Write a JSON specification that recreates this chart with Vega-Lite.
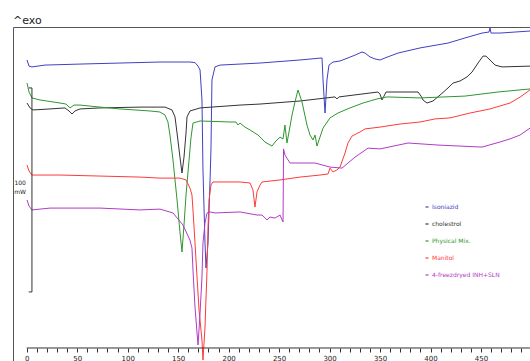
{
  "$schema": "https://vega.github.io/schema/vega-lite/v6.json",
  "width": 517,
  "height": 334,
  "autosize": {"type": "none"},
  "padding": {"left": 13, "top": 27, "right": 0, "bottom": 0},
  "background": "white",
  "title": {"text": "^exo", "anchor": "start", "frame": "group", "fontSize": 11, "font": "DejaVu Sans", "fontWeight": "normal", "color": "#222", "offset": 2, "dy": 2},
  "config": {
    "view": {"stroke": null},
    "font": "DejaVu Sans",
    "legend": {
      "orient": "none", "legendX": 411, "legendY": 177, "padding": 0,
      "symbolType": "stroke", "symbolSize": 9, "symbolStrokeWidth": 1.2,
      "labelFontSize": 6, "labelFont": "DejaVu Sans", "rowPadding": 11, "labelOffset": 2, "labelLimit": 200
    }
  },
  "datasets": {
    "curves": [
      {"sample": "Isoniazid", "temp": 0.3, "flow": 150.5},
      {"sample": "Isoniazid", "temp": 2.3, "flow": 147.5},
      {"sample": "Isoniazid", "temp": 5.2, "flow": 147.1},
      {"sample": "Isoniazid", "temp": 18.1, "flow": 148.0},
      {"sample": "Isoniazid", "temp": 52.8, "flow": 148.5},
      {"sample": "Isoniazid", "temp": 92.4, "flow": 149.0},
      {"sample": "Isoniazid", "temp": 132.0, "flow": 149.5},
      {"sample": "Isoniazid", "temp": 161.7, "flow": 149.5},
      {"sample": "Isoniazid", "temp": 166.7, "flow": 149.2},
      {"sample": "Isoniazid", "temp": 169.7, "flow": 147.5},
      {"sample": "Isoniazid", "temp": 171.7, "flow": 145.6},
      {"sample": "Isoniazid", "temp": 173.6, "flow": 130.9},
      {"sample": "Isoniazid", "temp": 174.6, "flow": 96.6},
      {"sample": "Isoniazid", "temp": 176.6, "flow": 60.8},
      {"sample": "Isoniazid", "temp": 177.6, "flow": 48.5},
      {"sample": "Isoniazid", "temp": 179.6, "flow": 60.8},
      {"sample": "Isoniazid", "temp": 181.6, "flow": 91.7},
      {"sample": "Isoniazid", "temp": 182.5, "flow": 106.4},
      {"sample": "Isoniazid", "temp": 183.5, "flow": 140.7},
      {"sample": "Isoniazid", "temp": 186.5, "flow": 147.1},
      {"sample": "Isoniazid", "temp": 191.5, "flow": 148.0},
      {"sample": "Isoniazid", "temp": 231.1, "flow": 149.0},
      {"sample": "Isoniazid", "temp": 270.7, "flow": 150.5},
      {"sample": "Isoniazid", "temp": 292.5, "flow": 151.5},
      {"sample": "Isoniazid", "temp": 293.5, "flow": 140.7},
      {"sample": "Isoniazid", "temp": 295.5, "flow": 124.5},
      {"sample": "Isoniazid", "temp": 297.4, "flow": 140.7},
      {"sample": "Isoniazid", "temp": 299.4, "flow": 148.0},
      {"sample": "Isoniazid", "temp": 303.4, "flow": 149.5},
      {"sample": "Isoniazid", "temp": 310.3, "flow": 150.0},
      {"sample": "Isoniazid", "temp": 318.2, "flow": 151.5},
      {"sample": "Isoniazid", "temp": 325.2, "flow": 152.9},
      {"sample": "Isoniazid", "temp": 332.1, "flow": 154.4},
      {"sample": "Isoniazid", "temp": 335.1, "flow": 153.9},
      {"sample": "Isoniazid", "temp": 340.0, "flow": 152.0},
      {"sample": "Isoniazid", "temp": 345.0, "flow": 151.0},
      {"sample": "Isoniazid", "temp": 349.9, "flow": 150.5},
      {"sample": "Isoniazid", "temp": 354.9, "flow": 151.5},
      {"sample": "Isoniazid", "temp": 367.8, "flow": 153.9},
      {"sample": "Isoniazid", "temp": 389.6, "flow": 156.4},
      {"sample": "Isoniazid", "temp": 417.3, "flow": 158.8},
      {"sample": "Isoniazid", "temp": 434.1, "flow": 161.3},
      {"sample": "Isoniazid", "temp": 451.0, "flow": 163.7},
      {"sample": "Isoniazid", "temp": 457.9, "flow": 164.2},
      {"sample": "Isoniazid", "temp": 458.9, "flow": 166.2},
      {"sample": "Isoniazid", "temp": 459.9, "flow": 163.7},
      {"sample": "Isoniazid", "temp": 468.8, "flow": 163.7},
      {"sample": "Isoniazid", "temp": 483.7, "flow": 164.2},
      {"sample": "Isoniazid", "temp": 498.5, "flow": 164.7},

      {"sample": "cholestrol", "temp": 0.3, "flow": 129.4},
      {"sample": "cholestrol", "temp": 3.3, "flow": 127.0},
      {"sample": "cholestrol", "temp": 6.2, "flow": 126.0},
      {"sample": "cholestrol", "temp": 23.1, "flow": 126.5},
      {"sample": "cholestrol", "temp": 37.9, "flow": 127.0},
      {"sample": "cholestrol", "temp": 41.9, "flow": 125.5},
      {"sample": "cholestrol", "temp": 44.9, "flow": 124.0},
      {"sample": "cholestrol", "temp": 47.8, "flow": 125.5},
      {"sample": "cholestrol", "temp": 52.8, "flow": 126.5},
      {"sample": "cholestrol", "temp": 72.6, "flow": 127.0},
      {"sample": "cholestrol", "temp": 112.2, "flow": 127.4},
      {"sample": "cholestrol", "temp": 137.0, "flow": 127.4},
      {"sample": "cholestrol", "temp": 143.9, "flow": 126.0},
      {"sample": "cholestrol", "temp": 146.9, "flow": 122.6},
      {"sample": "cholestrol", "temp": 148.9, "flow": 114.7},
      {"sample": "cholestrol", "temp": 151.8, "flow": 102.9},
      {"sample": "cholestrol", "temp": 153.8, "flow": 95.1},
      {"sample": "cholestrol", "temp": 155.8, "flow": 102.9},
      {"sample": "cholestrol", "temp": 157.8, "flow": 114.7},
      {"sample": "cholestrol", "temp": 158.8, "flow": 122.6},
      {"sample": "cholestrol", "temp": 161.7, "flow": 125.5},
      {"sample": "cholestrol", "temp": 171.7, "flow": 127.0},
      {"sample": "cholestrol", "temp": 211.3, "flow": 128.4},
      {"sample": "cholestrol", "temp": 231.1, "flow": 128.9},
      {"sample": "cholestrol", "temp": 270.7, "flow": 130.4},
      {"sample": "cholestrol", "temp": 305.4, "flow": 132.4},
      {"sample": "cholestrol", "temp": 307.3, "flow": 131.4},
      {"sample": "cholestrol", "temp": 309.3, "flow": 132.4},
      {"sample": "cholestrol", "temp": 347.9, "flow": 134.8},
      {"sample": "cholestrol", "temp": 349.9, "flow": 133.8},
      {"sample": "cholestrol", "temp": 351.9, "flow": 130.9},
      {"sample": "cholestrol", "temp": 353.9, "flow": 132.8},
      {"sample": "cholestrol", "temp": 355.9, "flow": 134.8},
      {"sample": "cholestrol", "temp": 387.6, "flow": 134.8},
      {"sample": "cholestrol", "temp": 390.6, "flow": 132.8},
      {"sample": "cholestrol", "temp": 392.5, "flow": 130.9},
      {"sample": "cholestrol", "temp": 396.5, "flow": 129.4},
      {"sample": "cholestrol", "temp": 402.4, "flow": 130.4},
      {"sample": "cholestrol", "temp": 409.4, "flow": 133.3},
      {"sample": "cholestrol", "temp": 417.3, "flow": 136.8},
      {"sample": "cholestrol", "temp": 422.3, "flow": 139.2},
      {"sample": "cholestrol", "temp": 429.2, "flow": 140.2},
      {"sample": "cholestrol", "temp": 436.1, "flow": 142.2},
      {"sample": "cholestrol", "temp": 441.1, "flow": 144.6},
      {"sample": "cholestrol", "temp": 447.0, "flow": 149.0},
      {"sample": "cholestrol", "temp": 452.0, "flow": 152.4},
      {"sample": "cholestrol", "temp": 454.9, "flow": 152.4},
      {"sample": "cholestrol", "temp": 458.9, "flow": 150.5},
      {"sample": "cholestrol", "temp": 463.9, "flow": 148.0},
      {"sample": "cholestrol", "temp": 470.8, "flow": 147.1},
      {"sample": "cholestrol", "temp": 498.5, "flow": 147.5},

      {"sample": "Physical Mix.", "temp": 0.3, "flow": 139.2},
      {"sample": "Physical Mix.", "temp": 2.3, "flow": 134.8},
      {"sample": "Physical Mix.", "temp": 5.2, "flow": 131.9},
      {"sample": "Physical Mix.", "temp": 13.2, "flow": 130.9},
      {"sample": "Physical Mix.", "temp": 33.0, "flow": 129.4},
      {"sample": "Physical Mix.", "temp": 38.9, "flow": 128.9},
      {"sample": "Physical Mix.", "temp": 42.9, "flow": 127.0},
      {"sample": "Physical Mix.", "temp": 46.8, "flow": 128.4},
      {"sample": "Physical Mix.", "temp": 52.8, "flow": 128.4},
      {"sample": "Physical Mix.", "temp": 72.6, "flow": 127.4},
      {"sample": "Physical Mix.", "temp": 92.4, "flow": 126.5},
      {"sample": "Physical Mix.", "temp": 122.1, "flow": 125.5},
      {"sample": "Physical Mix.", "temp": 132.0, "flow": 125.0},
      {"sample": "Physical Mix.", "temp": 137.0, "flow": 123.5},
      {"sample": "Physical Mix.", "temp": 139.9, "flow": 120.1},
      {"sample": "Physical Mix.", "temp": 141.9, "flow": 113.7},
      {"sample": "Physical Mix.", "temp": 144.9, "flow": 101.5},
      {"sample": "Physical Mix.", "temp": 148.9, "flow": 81.9},
      {"sample": "Physical Mix.", "temp": 151.8, "flow": 66.2},
      {"sample": "Physical Mix.", "temp": 153.8, "flow": 56.4},
      {"sample": "Physical Mix.", "temp": 155.8, "flow": 69.6},
      {"sample": "Physical Mix.", "temp": 157.8, "flow": 84.3},
      {"sample": "Physical Mix.", "temp": 160.8, "flow": 101.5},
      {"sample": "Physical Mix.", "temp": 162.7, "flow": 112.3},
      {"sample": "Physical Mix.", "temp": 164.7, "flow": 119.6},
      {"sample": "Physical Mix.", "temp": 171.7, "flow": 120.6},
      {"sample": "Physical Mix.", "temp": 201.4, "flow": 120.1},
      {"sample": "Physical Mix.", "temp": 207.3, "flow": 120.1},
      {"sample": "Physical Mix.", "temp": 209.3, "flow": 118.6},
      {"sample": "Physical Mix.", "temp": 211.3, "flow": 119.6},
      {"sample": "Physical Mix.", "temp": 216.2, "flow": 117.6},
      {"sample": "Physical Mix.", "temp": 221.2, "flow": 116.2},
      {"sample": "Physical Mix.", "temp": 229.1, "flow": 113.7},
      {"sample": "Physical Mix.", "temp": 236.0, "flow": 110.3},
      {"sample": "Physical Mix.", "temp": 242.9, "flow": 108.3},
      {"sample": "Physical Mix.", "temp": 246.9, "flow": 110.8},
      {"sample": "Physical Mix.", "temp": 250.9, "flow": 112.7},
      {"sample": "Physical Mix.", "temp": 253.9, "flow": 111.8},
      {"sample": "Physical Mix.", "temp": 255.8, "flow": 118.6},
      {"sample": "Physical Mix.", "temp": 257.8, "flow": 109.8},
      {"sample": "Physical Mix.", "temp": 259.8, "flow": 115.2},
      {"sample": "Physical Mix.", "temp": 262.8, "flow": 123.5},
      {"sample": "Physical Mix.", "temp": 265.7, "flow": 129.9},
      {"sample": "Physical Mix.", "temp": 268.7, "flow": 135.8},
      {"sample": "Physical Mix.", "temp": 272.7, "flow": 129.9},
      {"sample": "Physical Mix.", "temp": 277.6, "flow": 118.6},
      {"sample": "Physical Mix.", "temp": 280.6, "flow": 113.7},
      {"sample": "Physical Mix.", "temp": 283.6, "flow": 111.3},
      {"sample": "Physical Mix.", "temp": 285.6, "flow": 113.7},
      {"sample": "Physical Mix.", "temp": 287.5, "flow": 108.3},
      {"sample": "Physical Mix.", "temp": 290.5, "flow": 112.7},
      {"sample": "Physical Mix.", "temp": 293.5, "flow": 117.1},
      {"sample": "Physical Mix.", "temp": 300.4, "flow": 122.1},
      {"sample": "Physical Mix.", "temp": 308.3, "flow": 124.5},
      {"sample": "Physical Mix.", "temp": 320.2, "flow": 127.0},
      {"sample": "Physical Mix.", "temp": 333.1, "flow": 129.4},
      {"sample": "Physical Mix.", "temp": 347.0, "flow": 131.4},
      {"sample": "Physical Mix.", "temp": 356.9, "flow": 132.4},
      {"sample": "Physical Mix.", "temp": 389.6, "flow": 131.9},
      {"sample": "Physical Mix.", "temp": 434.1, "flow": 132.8},
      {"sample": "Physical Mix.", "temp": 466.8, "flow": 134.8},
      {"sample": "Physical Mix.", "temp": 498.5, "flow": 136.3},

      {"sample": "Manitol", "temp": 0.3, "flow": 99.0},
      {"sample": "Manitol", "temp": 2.3, "flow": 96.1},
      {"sample": "Manitol", "temp": 5.2, "flow": 94.1},
      {"sample": "Manitol", "temp": 33.0, "flow": 94.1},
      {"sample": "Manitol", "temp": 72.6, "flow": 93.6},
      {"sample": "Manitol", "temp": 112.2, "flow": 93.1},
      {"sample": "Manitol", "temp": 132.0, "flow": 92.6},
      {"sample": "Manitol", "temp": 151.8, "flow": 92.6},
      {"sample": "Manitol", "temp": 157.8, "flow": 91.7},
      {"sample": "Manitol", "temp": 161.7, "flow": 87.7},
      {"sample": "Manitol", "temp": 163.7, "flow": 84.3},
      {"sample": "Manitol", "temp": 164.7, "flow": 77.0},
      {"sample": "Manitol", "temp": 166.7, "flow": 60.8},
      {"sample": "Manitol", "temp": 168.7, "flow": 44.1},
      {"sample": "Manitol", "temp": 170.7, "flow": 27.9},
      {"sample": "Manitol", "temp": 173.6, "flow": 13.2},
      {"sample": "Manitol", "temp": 174.6, "flow": 3.4},
      {"sample": "Manitol", "temp": 176.6, "flow": 19.6},
      {"sample": "Manitol", "temp": 178.6, "flow": 47.5},
      {"sample": "Manitol", "temp": 179.6, "flow": 68.6},
      {"sample": "Manitol", "temp": 180.6, "flow": 81.9},
      {"sample": "Manitol", "temp": 182.5, "flow": 89.2},
      {"sample": "Manitol", "temp": 184.5, "flow": 90.7},
      {"sample": "Manitol", "temp": 191.5, "flow": 90.7},
      {"sample": "Manitol", "temp": 211.3, "flow": 90.7},
      {"sample": "Manitol", "temp": 221.2, "flow": 90.2},
      {"sample": "Manitol", "temp": 224.1, "flow": 86.8},
      {"sample": "Manitol", "temp": 226.1, "flow": 78.4},
      {"sample": "Manitol", "temp": 228.1, "flow": 85.8},
      {"sample": "Manitol", "temp": 231.1, "flow": 89.2},
      {"sample": "Manitol", "temp": 233.1, "flow": 90.7},
      {"sample": "Manitol", "temp": 250.9, "flow": 91.7},
      {"sample": "Manitol", "temp": 270.7, "flow": 93.1},
      {"sample": "Manitol", "temp": 290.5, "flow": 94.1},
      {"sample": "Manitol", "temp": 298.4, "flow": 94.6},
      {"sample": "Manitol", "temp": 300.4, "flow": 97.5},
      {"sample": "Manitol", "temp": 303.4, "flow": 95.6},
      {"sample": "Manitol", "temp": 307.3, "flow": 96.6},
      {"sample": "Manitol", "temp": 310.3, "flow": 98.0},
      {"sample": "Manitol", "temp": 315.3, "flow": 104.9},
      {"sample": "Manitol", "temp": 318.2, "flow": 109.8},
      {"sample": "Manitol", "temp": 322.2, "flow": 113.2},
      {"sample": "Manitol", "temp": 330.1, "flow": 115.2},
      {"sample": "Manitol", "temp": 335.1, "flow": 116.7},
      {"sample": "Manitol", "temp": 349.9, "flow": 117.6},
      {"sample": "Manitol", "temp": 369.8, "flow": 119.1},
      {"sample": "Manitol", "temp": 389.6, "flow": 120.1},
      {"sample": "Manitol", "temp": 404.4, "flow": 121.6},
      {"sample": "Manitol", "temp": 419.3, "flow": 122.1},
      {"sample": "Manitol", "temp": 439.1, "flow": 124.5},
      {"sample": "Manitol", "temp": 458.9, "flow": 126.5},
      {"sample": "Manitol", "temp": 478.7, "flow": 129.4},
      {"sample": "Manitol", "temp": 488.6, "flow": 132.3},
      {"sample": "Manitol", "temp": 498.5, "flow": 135.8},

      {"sample": "4-freezdryed INH+SLN", "temp": 0.3, "flow": 81.9},
      {"sample": "4-freezdryed INH+SLN", "temp": 2.3, "flow": 78.9},
      {"sample": "4-freezdryed INH+SLN", "temp": 5.2, "flow": 77.0},
      {"sample": "4-freezdryed INH+SLN", "temp": 23.1, "flow": 77.9},
      {"sample": "4-freezdryed INH+SLN", "temp": 42.9, "flow": 77.9},
      {"sample": "4-freezdryed INH+SLN", "temp": 72.6, "flow": 77.9},
      {"sample": "4-freezdryed INH+SLN", "temp": 112.2, "flow": 77.0},
      {"sample": "4-freezdryed INH+SLN", "temp": 132.0, "flow": 77.4},
      {"sample": "4-freezdryed INH+SLN", "temp": 144.9, "flow": 75.5},
      {"sample": "4-freezdryed INH+SLN", "temp": 154.8, "flow": 69.6},
      {"sample": "4-freezdryed INH+SLN", "temp": 161.7, "flow": 62.2},
      {"sample": "4-freezdryed INH+SLN", "temp": 163.7, "flow": 58.3},
      {"sample": "4-freezdryed INH+SLN", "temp": 164.7, "flow": 47.5},
      {"sample": "4-freezdryed INH+SLN", "temp": 166.7, "flow": 29.4},
      {"sample": "4-freezdryed INH+SLN", "temp": 168.7, "flow": 16.7},
      {"sample": "4-freezdryed INH+SLN", "temp": 169.7, "flow": 10.8},
      {"sample": "4-freezdryed INH+SLN", "temp": 171.7, "flow": 26.5},
      {"sample": "4-freezdryed INH+SLN", "temp": 173.6, "flow": 44.1},
      {"sample": "4-freezdryed INH+SLN", "temp": 174.6, "flow": 60.8},
      {"sample": "4-freezdryed INH+SLN", "temp": 176.6, "flow": 70.6},
      {"sample": "4-freezdryed INH+SLN", "temp": 178.6, "flow": 75.5},
      {"sample": "4-freezdryed INH+SLN", "temp": 181.6, "flow": 76.0},
      {"sample": "4-freezdryed INH+SLN", "temp": 186.5, "flow": 75.5},
      {"sample": "4-freezdryed INH+SLN", "temp": 211.3, "flow": 76.0},
      {"sample": "4-freezdryed INH+SLN", "temp": 228.1, "flow": 74.5},
      {"sample": "4-freezdryed INH+SLN", "temp": 233.1, "flow": 74.5},
      {"sample": "4-freezdryed INH+SLN", "temp": 238.0, "flow": 72.1},
      {"sample": "4-freezdryed INH+SLN", "temp": 241.0, "flow": 73.5},
      {"sample": "4-freezdryed INH+SLN", "temp": 245.9, "flow": 73.0},
      {"sample": "4-freezdryed INH+SLN", "temp": 250.9, "flow": 74.5},
      {"sample": "4-freezdryed INH+SLN", "temp": 252.9, "flow": 72.1},
      {"sample": "4-freezdryed INH+SLN", "temp": 253.9, "flow": 71.1},
      {"sample": "4-freezdryed INH+SLN", "temp": 254.4, "flow": 106.9},
      {"sample": "4-freezdryed INH+SLN", "temp": 255.8, "flow": 103.9},
      {"sample": "4-freezdryed INH+SLN", "temp": 260.8, "flow": 100.0},
      {"sample": "4-freezdryed INH+SLN", "temp": 270.7, "flow": 100.0},
      {"sample": "4-freezdryed INH+SLN", "temp": 285.6, "flow": 100.0},
      {"sample": "4-freezdryed INH+SLN", "temp": 300.4, "flow": 98.0},
      {"sample": "4-freezdryed INH+SLN", "temp": 312.3, "flow": 97.5},
      {"sample": "4-freezdryed INH+SLN", "temp": 325.2, "flow": 102.9},
      {"sample": "4-freezdryed INH+SLN", "temp": 338.1, "flow": 107.3},
      {"sample": "4-freezdryed INH+SLN", "temp": 349.9, "flow": 106.9},
      {"sample": "4-freezdryed INH+SLN", "temp": 377.7, "flow": 109.8},
      {"sample": "4-freezdryed INH+SLN", "temp": 407.4, "flow": 108.8},
      {"sample": "4-freezdryed INH+SLN", "temp": 451.0, "flow": 107.8},
      {"sample": "4-freezdryed INH+SLN", "temp": 468.8, "flow": 110.3},
      {"sample": "4-freezdryed INH+SLN", "temp": 478.7, "flow": 111.8},
      {"sample": "4-freezdryed INH+SLN", "temp": 488.6, "flow": 113.7},
      {"sample": "4-freezdryed INH+SLN", "temp": 498.5, "flow": 117.1}
    ],
    "guides": [
      {"part": "scale bar", "t0": 5.2, "t1": 5.2, "f0": 36.8, "f1": 136.8},
      {"part": "scale bar top", "t0": 2.0, "t1": 5.2, "f0": 136.8, "f1": 136.8},
      {"part": "scale bar bottom", "t0": 2.0, "t1": 5.2, "f0": 36.8, "f1": 36.8},
      {"part": "temperature axis", "t0": 0, "t1": 510, "f0": 9.32, "f1": 9.32}
    ],
    "notes": [
      {"text": "100", "temp": -6.5, "flow": 90.2},
      {"text": "mW", "temp": -6.5, "flow": 85.8}
    ]
  },
  "layer": [
    {
      "data": {"name": "curves"},
      "mark": {"type": "line", "strokeWidth": 1, "interpolate": "linear"},
      "encoding": {
        "x": {
          "field": "temp", "type": "quantitative",
          "scale": {"domain": [-13.57, 498.5], "nice": false, "zero": false},
          "axis": {
            "orient": "bottom", "offset": -13, "domain": false, "grid": false, "title": null,
            "values": [0,10,20,30,40,50,60,70,80,90,100,110,120,130,140,150,160,170,180,190,200,210,220,230,240,250,260,270,280,290,300,310,320,330,340,350,360,370,380,390,400,410,420,430,440,450,460,470,480,490,500],
            "labelExpr": "datum.value % 50 === 0 ? datum.label : ''",
            "tickSize": 4, "tickColor": "#333", "labelFontSize": 7, "labelPadding": 2, "labelColor": "#222",
            "labelFont": "DejaVu Sans", "labelFlush": false, "labelOverlap": false, "labelBound": false
          }
        },
        "y": {
          "field": "flow", "type": "quantitative",
          "scale": {"domain": [2.94, 166.67], "nice": false, "zero": false},
          "axis": {"orient": "left", "domain": true, "domainColor": "#555", "ticks": false, "labels": false, "grid": false, "title": null}
        },
        "color": {
          "field": "sample", "type": "nominal",
          "scale": {
            "domain": ["Isoniazid", "cholestrol", "Physical Mix.", "Manitol", "4-freezdryed INH+SLN"],
            "range": ["#4040c4", "#333333", "#2f962f", "#ff3a3a", "#b03cc4"]
          },
          "legend": {
            "title": null,
            "encode": {"labels": {"update": {"fill": {"scale": "color", "field": "value"}}}}
          }
        }
      }
    },
    {
      "data": {"name": "guides"},
      "mark": {"type": "rule", "color": "#333", "strokeWidth": 1},
      "encoding": {
        "x": {
          "field": "t0", "type": "quantitative",
          "scale": {"domain": [-13.57, 498.5], "nice": false, "zero": false},
          "axis": {"orient": "top", "domain": true, "domainColor": "#555", "ticks": false, "labels": false, "grid": false, "title": null}
        },
        "x2": {"field": "t1"},
        "y": {"field": "f0", "type": "quantitative", "scale": {"domain": [2.94, 166.67], "nice": false, "zero": false}, "axis": null},
        "y2": {"field": "f1"}
      }
    },
    {
      "data": {"name": "notes"},
      "mark": {"type": "text", "fontSize": 6, "color": "#222", "align": "center", "baseline": "middle", "font": "DejaVu Sans"},
      "encoding": {
        "x": {"field": "temp", "type": "quantitative", "scale": {"domain": [-13.57, 498.5], "nice": false, "zero": false}, "axis": null},
        "y": {"field": "flow", "type": "quantitative", "scale": {"domain": [2.94, 166.67], "nice": false, "zero": false}, "axis": null},
        "text": {"field": "text"}
      }
    }
  ],
  "resolve": {"axis": {"x": "independent", "y": "independent"}}
}
